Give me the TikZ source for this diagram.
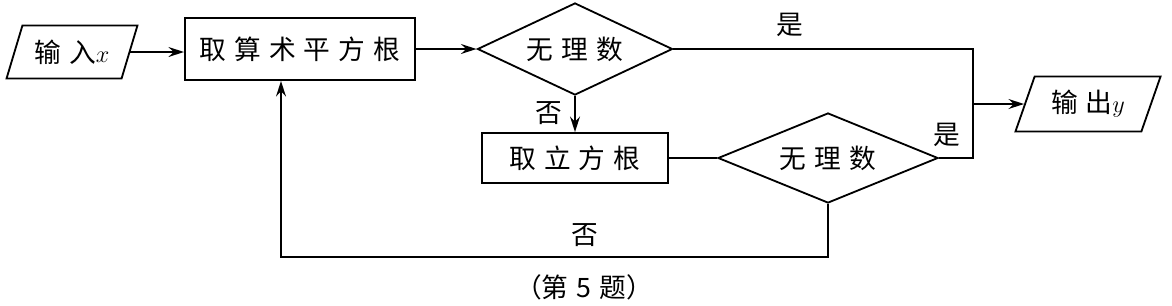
\documentclass[tikz,border=0pt]{standalone}
\usepackage{fontspec}
\usepackage{amsmath}
\usepackage{tikz}
\usetikzlibrary{arrows.meta, positioning, shapes.geometric}
\newfontfamily\cjk[LetterSpace=30]{Noto Sans CJK SC}
\newfontfamily\cjkplain{Noto Sans CJK SC}
\tikzstyle{arr}=[-{Stealth[length=11pt,width=7pt]},line width=1.3pt]
\tikzstyle{ln}=[line width=1.3pt]
\tikzstyle{procbox}=[draw,rectangle,line width=1.3pt,inner sep=0pt,font=\cjk\fontsize{19}{22}\selectfont]
\tikzstyle{decide}=[draw,diamond,aspect=2,line width=1.3pt,inner sep=0pt,font=\cjk\fontsize{19}{22}\selectfont]
\tikzstyle{io}=[draw,trapezium,trapezium left angle=64,trapezium right angle=116,trapezium stretches=true,line width=1.3pt,inner sep=0pt,font=\cjk\fontsize{19}{22}\selectfont]
\tikzstyle{lbl}=[inner sep=0pt,font=\cjkplain\fontsize{19}{22}\selectfont]

\begin{document}
\begin{tikzpicture}[x=0.025cm,y=-0.025cm]
  \useasboundingbox (0,0) rectangle (1172,305);
  % boxes
  \node[io,minimum width=3.275cm,minimum height=1.325cm] (in) at (72,52) {输入$x$};
  \node[procbox,minimum width=5.75cm,minimum height=1.55cm] (sq) at (300,49) {取算术平方根};
  \node[decide,minimum width=4.875cm,minimum height=2.3cm] (d1) at (575,49) {无理数};
  \node[procbox,minimum width=4.65cm,minimum height=1.25cm] (cb) at (575,158) {取立方根};
  \node[decide,minimum width=5.5cm,minimum height=2.25cm] (d2) at (828,158) {无理数};
  \node[io,minimum width=3.65cm,minimum height=1.375cm] (out) at (1088,104) {输出$y$};
  \coordinate (jn) at (973,104);
  \coordinate (lp) at (281,257);
  % connectors
  \draw[arr] (in.east) -- (in.east -| sq.west);
  \draw[arr] (sq) -- (d1);
  \draw[arr] (d1) -- (cb);
  \draw[ln] (cb) -- (d2);
  \draw[ln] (d1.east) -| (jn);
  \draw[ln] (d2.east) -| (jn);
  \draw[arr] (jn) -- (out);
  \draw[arr] (d2.south) |- (lp) -- (lp |- sq.south);
  % labels
  \node[lbl] (yes1) at (790,25) {是};
  \node[lbl] (no1) at (549,113) {否};
  \node[lbl] (yes2) at (947,135) {是};
  \node[lbl] (no2) at (585,235) {否};
  \node[lbl] (cap) at (584,287) {（第\hspace{0.3em}5\hspace{0.3em}题）};
\end{tikzpicture}
\end{document}
